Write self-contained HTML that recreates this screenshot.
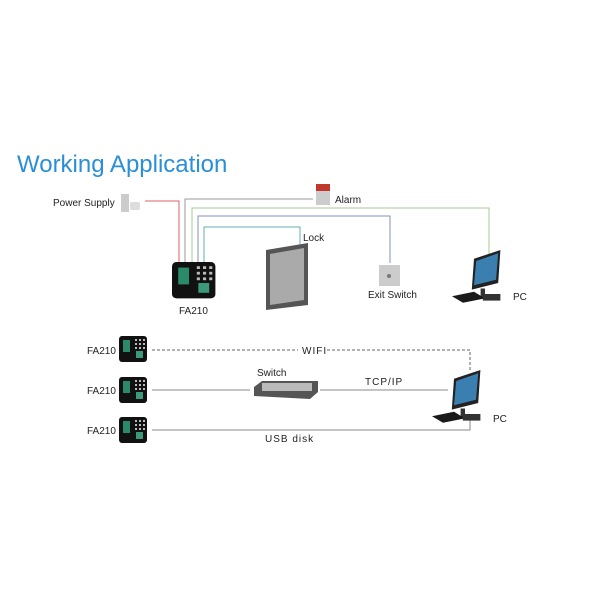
<!DOCTYPE html>
<html><head><meta charset="utf-8"><style>
html,body{margin:0;padding:0;background:#fff;}
svg{display:block;font-family:"Liberation Sans",sans-serif;}
</style></head><body>
<svg width="600" height="600" viewBox="0 0 600 600" xmlns="http://www.w3.org/2000/svg">
<defs>
<g id="dev">
 <rect x="0" y="0" width="28" height="26" rx="3" fill="#111"/>
 <rect x="4" y="4" width="7" height="12" fill="#2a8a6a"/>
 <g fill="#bbb"><rect x="16" y="3" width="2" height="2"/><rect x="20" y="3" width="2" height="2"/><rect x="24" y="3" width="2" height="2"/>
 <rect x="16" y="7" width="2" height="2"/><rect x="20" y="7" width="2" height="2"/><rect x="24" y="7" width="2" height="2"/>
 <rect x="16" y="11" width="2" height="2"/><rect x="20" y="11" width="2" height="2"/><rect x="24" y="11" width="2" height="2"/></g>
 <rect x="17" y="15" width="7" height="7" fill="#3a9a7a"/>
</g>
<g id="pc">
 <polygon points="20,8 44,0 42,30 18,36" fill="#222"/>
 <polygon points="22,10 42,3 40,27 20,32" fill="#3a7fb0"/>
 <rect x="26" y="35" width="4" height="8" fill="#333"/>
 <polygon points="0,42 20,38 30,44 10,48" fill="#1a1a1a"/>
 <rect x="28" y="40" width="16" height="6" fill="#333"/>
</g>
</defs>
<text x="17" y="172" font-size="24" fill="#2a8fd8">Working Application</text>
<text x="53" y="206" font-size="10" fill="#222">Power Supply</text>
<rect x="121" y="194" width="8" height="18" fill="#ccc"/><rect x="130" y="202" width="10" height="8" rx="2" fill="#ddd"/>
<g fill="none" stroke-width="1">
 <polyline points="145,201 179,201 179,265" stroke="#e06060"/>
 <polyline points="313,199 185,199 185,265" stroke="#999"/>
 <polyline points="192,265 192,208 489,208 489,255" stroke="#a8c890"/>
 <polyline points="198,265 198,216 390,216 390,263" stroke="#8090c0"/>
 <polyline points="204,265 204,227 300,227 300,245" stroke="#60b0b0"/>
</g>
<rect x="316" y="184" width="14" height="7" fill="#c0392b"/><rect x="316" y="191" width="14" height="14" fill="#ccc"/>
<text x="335" y="203" font-size="10" fill="#222">Alarm</text>
<g transform="translate(172,262) scale(1.55,1.4)"><use href="#dev"/></g>
<text x="179" y="314" font-size="10" fill="#222">FA210</text>
<polygon points="266,250 308,243 308,305 266,310" fill="#555"/>
<polygon points="270,254 304,248 304,300 270,305" fill="#aaa"/>
<text x="303" y="241" font-size="10" fill="#222">Lock</text>
<rect x="379" y="265" width="21" height="21" fill="#ccc"/><circle cx="389" cy="276" r="2" fill="#777"/>
<text x="368" y="298" font-size="10" fill="#222">Exit Switch</text>
<g transform="translate(452,250) scale(1.1)"><use href="#pc"/></g>
<text x="513" y="300" font-size="10" fill="#222">PC</text>

<text x="87" y="354" font-size="10" fill="#222">FA210</text>
<text x="87" y="394" font-size="10" fill="#222">FA210</text>
<text x="87" y="434" font-size="10" fill="#222">FA210</text>
<use href="#dev" x="119" y="336"/><use href="#dev" x="119" y="377"/><use href="#dev" x="119" y="417"/>
<polyline points="152,350 298,350" stroke="#666" stroke-dasharray="3,2" fill="none"/>
<polyline points="327,350 470,350 470,370" stroke="#666" stroke-dasharray="3,2" fill="none"/>
<text x="302" y="354" font-size="10" fill="#222" letter-spacing="1">WIFI</text>
<line x1="152" y1="390" x2="250" y2="390" stroke="#888"/>
<line x1="320" y1="390" x2="448" y2="390" stroke="#888"/>
<polygon points="254,387 262,381 318,381 318,392 310,399 254,396" fill="#555"/>
<rect x="262" y="383" width="50" height="8" fill="#bbb"/>
<text x="257" y="376" font-size="10" fill="#222">Switch</text>
<text x="365" y="385" font-size="10" fill="#222" letter-spacing="1">TCP/IP</text>
<polyline points="152,430 470,430 470,420" stroke="#888" fill="none"/>
<text x="265" y="442" font-size="10" fill="#222" letter-spacing="1">USB disk</text>
<g transform="translate(432,370) scale(1.1)"><use href="#pc"/></g>
<text x="493" y="422" font-size="10" fill="#222">PC</text>
</svg>
</body></html>
